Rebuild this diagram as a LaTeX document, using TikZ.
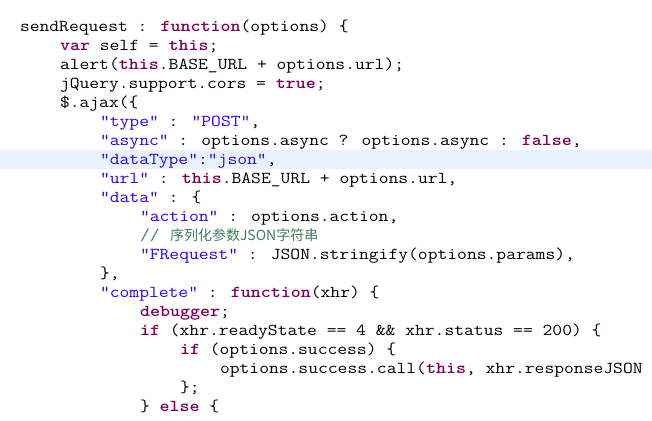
\documentclass[tikz,border=0pt]{standalone}
\usepackage{fontspec}
\usepackage{graphicx}
\newfontfamily\cjkfont{Noto Sans CJK SC}
\definecolor{kwc}{HTML}{7F0055}
\definecolor{strc}{HTML}{2A00FF}
\definecolor{cmtc}{HTML}{3F7F5F}
\definecolor{hlc}{HTML}{E8F2FE}
\newcommand\kwd[1]{{\bfseries\color{kwc}#1}}
\newcommand\strg[1]{{\color{strc}#1}}
\newcommand\codeln[1]{\scalebox{1.1429}[1]{\ttfamily\fontsize{16.67}{19}\selectfont #1}}
\tikzset{ln/.style={anchor=base west,inner sep=0pt,outer sep=0pt}}
\begin{document}
\begin{tikzpicture}[x=1pt,y=-1pt]
\useasboundingbox (0,0) rectangle (652,420);
\fill[white] (0,0) rectangle (652,420);
\fill[hlc] (0,150) rectangle (652,169);
\node[ln] (l1) at (20,31) {\codeln{sendRequest : \kwd{function}(options) \{}};
\node[ln] (l2) at (60,50) {\codeln{\kwd{var} self = \kwd{this};}};
\node[ln] (l3) at (60,69) {\codeln{alert(\kwd{this}.BASE\_URL + options.url);}};
\node[ln] (l4) at (60,88) {\codeln{jQuery.support.cors = \kwd{true};}};
\node[ln] (l5) at (60,107) {\codeln{\$.ajax(\{}};
\node[ln] (l6) at (100,126) {\codeln{\strg{"type"} : \strg{"POST"},}};
\node[ln] (l7) at (100,145) {\codeln{\strg{"async"} : options.async ? options.async : \kwd{false},}};
\node[ln] (l8) at (100,164) {\codeln{\strg{"dataType"}:\strg{"json"},}};
\node[ln] (l9) at (100,183) {\codeln{\strg{"url"} : \kwd{this}.BASE\_URL + options.url,}};
\node[ln] (l10) at (100,202) {\codeln{\strg{"data"} : \{}};
\node[ln] (l11) at (140,221) {\codeln{\strg{"action"} : options.action,}};
\node[ln] (l12a) at (140,240) {\codeln{\color{cmtc}//}};
\node[ln] (l12b) at (170,240) {\color{cmtc}\cjkfont\fontsize{14}{16}\selectfont 序列化参数JSON字符串};
\node[ln] (l13) at (140,259) {\codeln{\strg{"FRequest"} : JSON.stringify(options.params),}};
\node[ln] (l14) at (100,278) {\codeln{\},}};
\node[ln] (l15) at (100,297) {\codeln{\strg{"complete"} : \kwd{function}(xhr) \{}};
\node[ln] (l16) at (140,316) {\codeln{\kwd{debugger};}};
\node[ln] (l17) at (140,335) {\codeln{\kwd{if} (xhr.readyState == 4 \&\& xhr.status == 200) \{}};
\node[ln] (l18) at (180,354) {\codeln{\kwd{if} (options.success) \{}};
\node[ln] (l19) at (220,373) {\codeln{options.success.call(\kwd{this}, xhr.responseJSON}};
\node[ln] (l20) at (180,392) {\codeln{\};}};
\node[ln] (l21) at (140,411) {\codeln{\} \kwd{else} \{}};
\end{tikzpicture}
\end{document}
